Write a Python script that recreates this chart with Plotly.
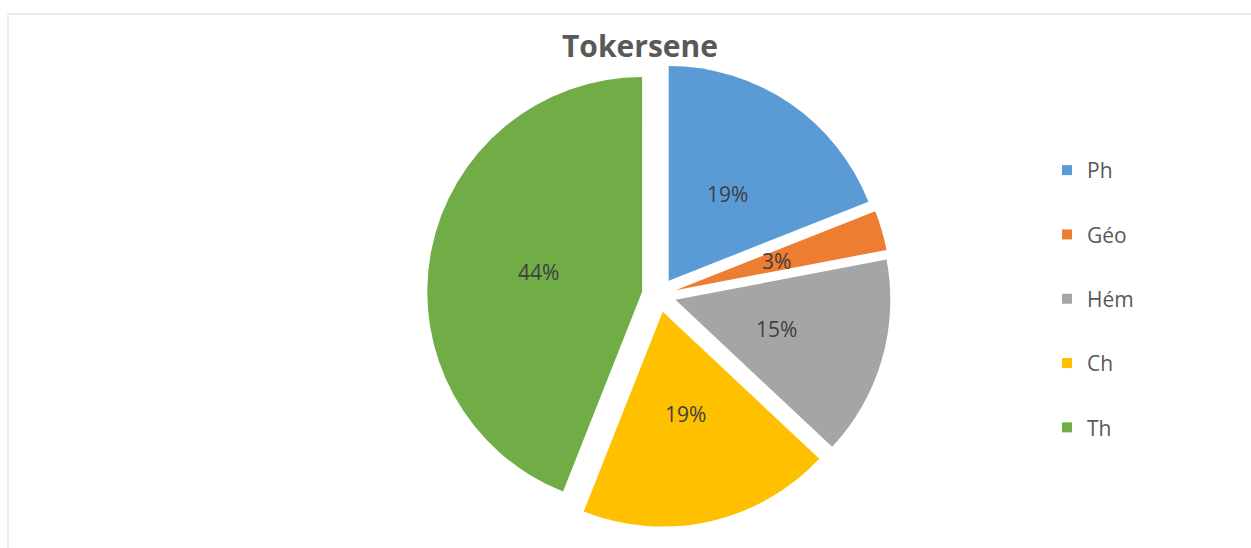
import math
import plotly.graph_objects as go

W, H = 1251, 548

labels = ["Ph", "Géo", "Hém", "Ch", "Th"]
values = [19, 3, 15, 19, 44]
colors = ["#5B9BD5", "#ED7D31", "#A5A5A5", "#FFC000", "#70AD47"]

PULL = 0.08
LABEL_FRAC = 0.49  # how far along the slice radius the % label sits

# plot area in pixels
M_T, M_B = 63, 21
plot_h = H - M_T - M_B

dom_x = [(659 - 250) / W, (659 + 250) / W]
dom_y = [0, 1]

fig = go.Figure()

fig.add_trace(go.Pie(
    labels=labels,
    values=values,
    sort=False,
    direction="clockwise",
    rotation=0,
    pull=[PULL] * len(values),
    marker=dict(colors=colors, line=dict(width=0)),
    textinfo="none",
    domain=dict(x=dom_x, y=dom_y),
    showlegend=False,
    hoverinfo="label+percent",
))

# percent labels placed like the original (about half way out along each slice)
cx = (dom_x[0] + dom_x[1]) / 2 * W
cy = H - M_B - (dom_y[0] + dom_y[1]) / 2 * plot_h
r = min((dom_x[1] - dom_x[0]) * W, (dom_y[1] - dom_y[0]) * plot_h) / 2 / (1 + PULL)
total = sum(values)
cum = 0
for v in values:
    ang = math.radians((cum + v / 2) / total * 360)
    cum += v
    d = r * (PULL + LABEL_FRAC)
    lx = cx + d * math.sin(ang)
    ly = cy - d * math.cos(ang)
    fig.add_annotation(
        x=lx / W, y=(H - M_B - ly) / plot_h, xref="paper", yref="paper",
        xanchor="center", yanchor="middle",
        text=f"{round(v / total * 100)}%", showarrow=False,
        font=dict(family="Open Sans", size=21, color="#404040"),
    )

# legend entries (one group each so the spacing can match the original)
for lab, col in zip(labels, colors):
    fig.add_trace(go.Scatter(
        x=[None], y=[None], mode="markers", name=lab, legendgroup=lab,
        marker=dict(symbol="square", size=10, color=col),
    ))

def px_y(y):
    return (H - M_B - y) / plot_h

# chart frame
fig.add_shape(type="rect", xref="paper", yref="paper",
              x0=8 / W, x1=1.02, y0=-0.1, y1=px_y(14),
              line=dict(color="#d9d9d9", width=1), layer="below")

fig.update_layout(
    width=W, height=H,
    margin=dict(l=0, r=0, t=M_T, b=M_B),
    paper_bgcolor="white", plot_bgcolor="white",
    title=dict(text="<b>Tokersene</b>", x=640 / W, xanchor="center",
               y=1 - 46 / H, yanchor="middle",
               font=dict(family="Open Sans", size=30, color="#595959")),
    xaxis=dict(visible=False), yaxis=dict(visible=False),
    legend=dict(x=1047 / W, xanchor="left", y=px_y(299), yanchor="middle",
                tracegroupgap=34, bgcolor="rgba(0,0,0,0)",
                font=dict(family="Open Sans", size=21, color="#595959")),
)

fig.write_html("out.html", config={"displayModeBar": False},
               post_script="document.body.style.margin='0';")
